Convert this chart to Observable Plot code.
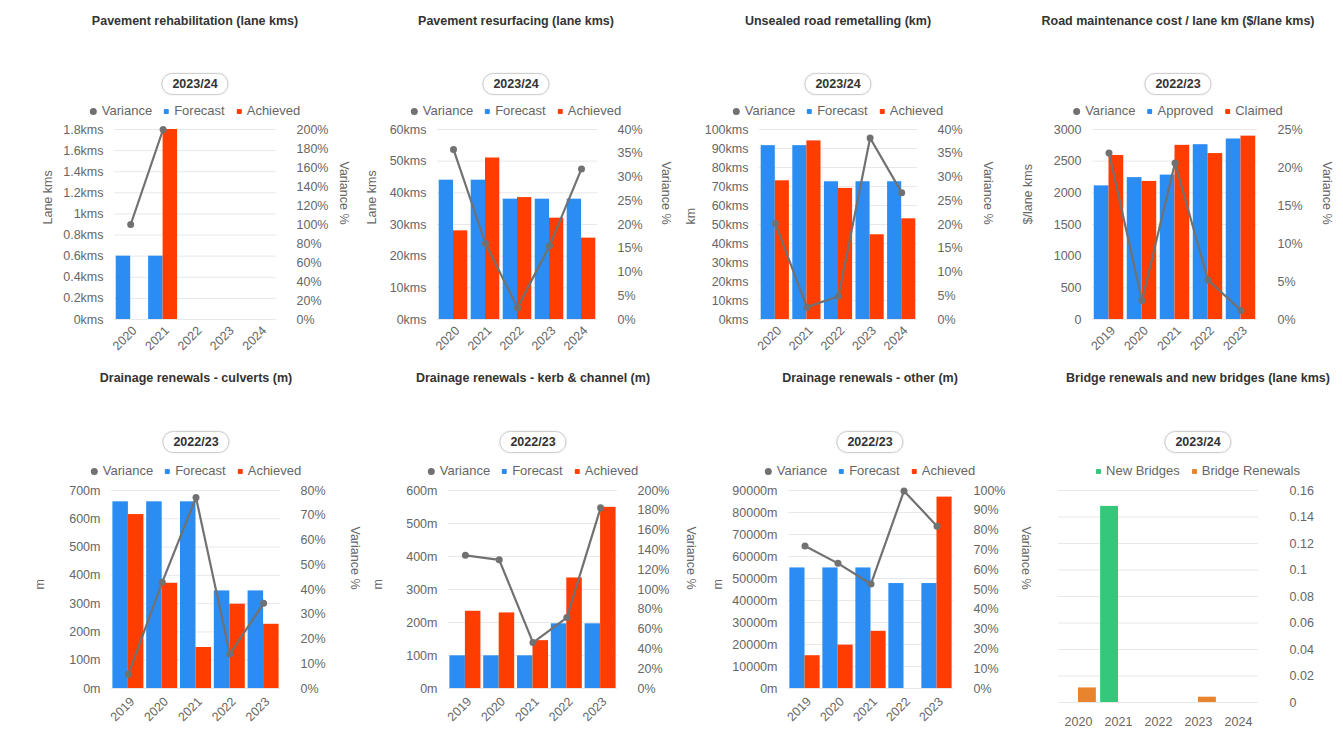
<!DOCTYPE html>
<html>
<head>
<meta charset="utf-8">
<script src="https://cdn.jsdelivr.net/npm/d3@7"></script>
<script src="https://cdn.jsdelivr.net/npm/@observablehq/plot@0.6"></script>
<style>
  html, body { margin: 0; padding: 0; background: #fff; }
  body { position: relative; width: 1343px; height: 736px; overflow: hidden; font-family: "Liberation Sans", Arial, sans-serif; }
  .title { position: absolute; transform: translateX(-50%); white-space: nowrap; font-size: 12.5px; font-weight: bold; color: #333; line-height: 16px; }
  .pill { position: absolute; transform: translateX(-50%); box-sizing: border-box; height: 22px; line-height: 20px; padding: 0 10px; border: 1px solid #cfcfcf; border-radius: 11px; font-size: 12.5px; font-weight: bold; color: #333; background: #fff; box-shadow: 0 0 2px rgba(0,0,0,0.12); white-space: nowrap; }
  .legend { position: absolute; transform: translateX(-50%); display: flex; align-items: center; white-space: nowrap; font-size: 13px; color: #666; line-height: 16px; }
  .legend .item { display: flex; align-items: center; margin-right: 12px; }
  .legend .item:last-child { margin-right: 0; }
  .legend .sw { display: inline-block; margin-right: 5px; }
  .chart { position: absolute; }
  .chart svg { position: absolute; left: 0; top: 0; overflow: visible; max-width: none; }
</style>
</head>
<body>
<script>
// ---- Category axes ----
const years2020to2024 = ["2020", "2021", "2022", "2023", "2024"];
const years2019to2023 = ["2019", "2020", "2021", "2022", "2023"];

// ---- Pavement rehabilitation (lane kms), 2023/24 ----
const rehabForecast = [0.6, 0.6, null, null, null];
const rehabAchieved = [null, 1.8, null, null, null];
const rehabVariance = [100, 200, null, null, null];
const rehabTicks = [0, 0.2, 0.4, 0.6, 0.8, 1, 1.2, 1.4, 1.6, 1.8];
const rehabVarianceTicks = [0, 20, 40, 60, 80, 100, 120, 140, 160, 180, 200];

// ---- Pavement resurfacing (lane kms), 2023/24 ----
const resurfForecast = [44, 44, 38, 38, 38];
const resurfAchieved = [28, 51, 38.5, 32, 25.7];
const resurfVariance = [35.8, 16, 2.5, 15.5, 31.7];
const resurfTicks = [0, 10, 20, 30, 40, 50, 60];
const resurfVarianceTicks = [0, 5, 10, 15, 20, 25, 30, 35, 40];

// ---- Unsealed road remetalling (km), 2023/24 ----
const remetalForecast = [91.5, 91.5, 72.5, 72.5, 72.5];
const remetalAchieved = [73, 94, 69, 44.6, 53];
const remetalVariance = [20.2, 2.6, 4.9, 38.2, 26.7];
const remetalTicks = [0, 10, 20, 30, 40, 50, 60, 70, 80, 90, 100];
const remetalVarianceTicks = [0, 5, 10, 15, 20, 25, 30, 35, 40];

// ---- Road maintenance cost / lane km ($/lane kms), 2022/23 ----
const costApproved = [2110, 2240, 2280, 2760, 2850];
const costClaimed = [2590, 2180, 2750, 2620, 2895];
const costVariance = [21.9, 2.5, 20.6, 5.2, 1.2];
const costTicks = [0, 500, 1000, 1500, 2000, 2500, 3000];
const costVarianceTicks = [0, 5, 10, 15, 20, 25];

// ---- Drainage renewals - culverts (m), 2022/23 ----
const culvertForecast = [660, 660, 660, 345, 345];
const culvertAchieved = [615, 372, 145, 298, 227];
const culvertVariance = [5.8, 42.9, 77.2, 13.9, 34.4];
const culvertTicks = [0, 100, 200, 300, 400, 500, 600, 700];
const culvertVarianceTicks = [0, 10, 20, 30, 40, 50, 60, 70, 80];

// ---- Drainage renewals - kerb & channel (m), 2022/23 ----
const kerbForecast = [99, 99, 99, 196, 196];
const kerbAchieved = [234, 229, 145, 335, 549];
const kerbVariance = [134.5, 130, 46.4, 71.6, 182.5];
const kerbTicks = [0, 100, 200, 300, 400, 500, 600];
const kerbVarianceTicks = [0, 20, 40, 60, 80, 100, 120, 140, 160, 180, 200];

// ---- Drainage renewals - other (m), 2022/23 ----
const otherForecast = [54800, 54800, 54800, 47700, 47700];
const otherAchieved = [14900, 19700, 26000, 0, 87000];
const otherVariance = [72, 63.2, 52.8, 99.8, 82];
const otherTicks = [0, 10000, 20000, 30000, 40000, 50000, 60000, 70000, 80000, 90000];
const otherVarianceTicks = [0, 10, 20, 30, 40, 50, 60, 70, 80, 90, 100];

// ---- Bridge renewals and new bridges (lane kms), 2023/24 ----
const newBridges = [null, 0.148, null, null, null];
const bridgeRenewals = [0.011, null, null, 0.004, null];
const bridgeTicks = [0, 0.02, 0.04, 0.06, 0.08, 0.1, 0.12, 0.14, 0.16];

// ---- Styling ----
const FONT = '"Liberation Sans", Arial, sans-serif';
const BLUE = "#2b8cf2", RED = "#ff3d00", GREY = "#717171", GREEN = "#35c87a", ORANGE = "#e8832e";
const GRID = "#e8e8e8", TICK_TEXT = "#666";

const fmtKms = d => `${d}kms`;
const fmtM = d => `${d}m`;
const fmtPct = d => `${d}%`;
const fmtPlain = d => `${d}`;

// Row geometry (page pixels)
const TOP = {plotTop: 129, plotBottom: 319, titleTop: 13, pillTop: 73, legendTop: 103, pad: 0.12, xRotate: -45, xPad: 9, xDx: 4};
const BOTTOM = {plotTop: 490, plotBottom: 688, titleTop: 370, pillTop: 431, legendTop: 463, pad: 0.09, xRotate: -45, xPad: 11, xDx: 4};

const panels = [
  {title: "Pavement rehabilitation (lane kms)", period: "2023/24", years: years2020to2024,
   series: ["Forecast", "Achieved"], colors: [BLUE, RED], values: [rehabForecast, rehabAchieved],
   variance: rehabVariance, yTicks: rehabTicks, yFormat: fmtKms, yLabel: "Lane kms",
   rTicks: rehabVarianceTicks, rFormat: fmtPct,
   layout: {...TOP, cx: 195, plotLeft: 114, plotRight: 276, leftDx: -67, rightDx: 67}},
  {title: "Pavement resurfacing (lane kms)", period: "2023/24", years: years2020to2024,
   series: ["Forecast", "Achieved"], colors: [BLUE, RED], values: [resurfForecast, resurfAchieved],
   variance: resurfVariance, yTicks: resurfTicks, yFormat: fmtKms, yLabel: "Lane kms",
   rTicks: resurfVarianceTicks, rFormat: fmtPct,
   layout: {...TOP, cx: 516, plotLeft: 437, plotRight: 597, leftDx: -66, rightDx: 68}},
  {title: "Unsealed road remetalling (km)", period: "2023/24", years: years2020to2024,
   series: ["Forecast", "Achieved"], colors: [BLUE, RED], values: [remetalForecast, remetalAchieved],
   variance: remetalVariance, yTicks: remetalTicks, yFormat: fmtKms, yLabel: "km",
   rTicks: remetalVarianceTicks, rFormat: fmtPct,
   layout: {...TOP, cx: 838, plotLeft: 759, plotRight: 917, leftDx: -69, rightDx: 70}},
  {title: "Road maintenance cost / lane km ($/lane kms)", period: "2022/23", years: years2019to2023,
   series: ["Approved", "Claimed"], colors: [BLUE, RED], values: [costApproved, costClaimed],
   variance: costVariance, yTicks: costTicks, yFormat: fmtPlain, yLabel: "$/lane kms",
   rTicks: costVarianceTicks, rFormat: fmtPct,
   layout: {...TOP, cx: 1178, plotLeft: 1092, plotRight: 1257, leftDx: -65, rightDx: 69}},
  {title: "Drainage renewals - culverts (m)", period: "2022/23", years: years2019to2023,
   series: ["Forecast", "Achieved"], colors: [BLUE, RED], values: [culvertForecast, culvertAchieved],
   variance: culvertVariance, yTicks: culvertTicks, yFormat: fmtM, yLabel: "m",
   rTicks: culvertVarianceTicks, rFormat: fmtPct,
   layout: {...BOTTOM, cx: 196, plotLeft: 111, plotRight: 280, leftDx: -72, rightDx: 74}},
  {title: "Drainage renewals - kerb & channel (m)", period: "2022/23", years: years2019to2023,
   series: ["Forecast", "Achieved"], colors: [BLUE, RED], values: [kerbForecast, kerbAchieved],
   variance: kerbVariance, yTicks: kerbTicks, yFormat: fmtM, yLabel: "m",
   rTicks: kerbVarianceTicks, rFormat: fmtPct,
   layout: {...BOTTOM, cx: 533, plotLeft: 448, plotRight: 617, leftDx: -71, rightDx: 73}},
  {title: "Drainage renewals - other (m)", period: "2022/23", years: years2019to2023,
   series: ["Forecast", "Achieved"], colors: [BLUE, RED], values: [otherForecast, otherAchieved],
   variance: otherVariance, yTicks: otherTicks, yFormat: fmtM, yLabel: "m",
   rTicks: otherVarianceTicks, rFormat: fmtPct,
   layout: {...BOTTOM, cx: 870, plotLeft: 788, plotRight: 953, leftDx: -71, rightDx: 72}},
  {title: "Bridge renewals and new bridges (lane kms)", period: "2023/24", years: years2020to2024,
   series: ["New Bridges", "Bridge Renewals"], colors: [GREEN, ORANGE], values: [newBridges, bridgeRenewals],
   variance: null, yTicks: bridgeTicks, yFormat: null, yLabel: null,
   rTicks: bridgeTicks, rFormat: fmtPlain,
   layout: {...BOTTOM, cx: 1198, plotLeft: 1058, plotRight: 1258, plotBottom: 702, pad: 0.12,
            xRotate: 0, xPad: 15, xDx: 0, rightPad: 31}}
];

const ML = 90, MR = 90, MT = 12, MB = 50;
const plotStyle = {background: "transparent", fontFamily: FONT, fontSize: "12.5px", color: TICK_TEXT, overflow: "visible"};

function addDiv(cls, left, top, parent = document.body) {
  const d = document.createElement("div");
  d.className = cls;
  d.style.left = left + "px";
  d.style.top = top + "px";
  parent.append(d);
  return d;
}

function drawPanel(p) {
  const L = p.layout;

  // Title and period selector pill
  addDiv("title", L.cx, L.titleTop).textContent = p.title;
  addDiv("pill", L.cx, L.pillTop).textContent = p.period;

  // Legend
  const legend = addDiv("legend", L.cx, L.legendTop);
  const items = (p.variance ? [{label: "Variance", color: GREY, dot: true}] : [])
    .concat(p.series.map((s, i) => ({label: s, color: p.colors[i], dot: false})));
  for (const it of items) {
    const item = document.createElement("span");
    item.className = "item";
    const sw = document.createElement("span");
    sw.className = "sw";
    const size = it.dot ? 7 : 5;
    Object.assign(sw.style, {width: size + "px", height: size + "px", background: it.color,
      borderRadius: it.dot ? "50%" : "1px"});
    item.append(sw, document.createTextNode(it.label));
    legend.append(item);
  }

  // Chart layers
  const W = L.plotRight - L.plotLeft + ML + MR;
  const H = L.plotBottom - L.plotTop + MT + MB;
  const box = addDiv("chart", L.plotLeft - ML, L.plotTop - MT);
  box.style.width = W + "px";
  box.style.height = H + "px";
  const dims = {width: W, height: H, marginLeft: ML, marginRight: MR, marginTop: MT, marginBottom: MB, style: plotStyle};
  const yMax = d3.max(p.yTicks);

  // 1) grid, left axis and year labels
  const base = Plot.plot({
    ...dims,
    x: {type: "band", domain: p.years, padding: 0, round: false},
    y: {domain: [0, yMax], axis: p.yFormat ? undefined : null},
    marks: [
      Plot.gridY({ticks: p.yTicks, stroke: GRID, strokeOpacity: 1}),
      p.yFormat ? Plot.axisY({ticks: p.yTicks, anchor: "left", tickSize: 0, tickPadding: 11, tickFormat: p.yFormat, label: null}) : null,
      Plot.axisX({anchor: "bottom", tickSize: 0, tickPadding: L.xPad, tickRotate: L.xRotate, dx: L.xDx, label: null}),
      p.yLabel ? Plot.text([p.yLabel], {text: d => d, frameAnchor: "left", dx: L.leftDx, rotate: -90, fill: TICK_TEXT, fontSize: 12.5}) : null
    ]
  });

  // 2) grouped bars, one facet per year
  const rows = p.years.flatMap((year, i) =>
    p.series.map((s, j) => ({year, series: s, value: p.values[j][i]}))
  ).filter(d => d.value != null);
  const bars = Plot.plot({
    ...dims,
    fx: {domain: p.years, padding: 0, round: false, axis: null, label: null},
    x: {domain: p.series, paddingInner: 0, paddingOuter: L.pad, round: false, axis: null},
    y: {domain: [0, yMax], axis: null},
    color: {domain: p.series, range: p.colors},
    marks: [
      Plot.barY(rows, {fx: "year", x: "series", y: "value", fill: "series", inset: 0})
    ]
  });

  // 3) variance line on its own right-hand scale
  const vrows = p.variance
    ? p.years.map((year, i) => ({year, v: p.variance[i]})).filter(d => d.v != null)
    : [];
  const over = Plot.plot({
    ...dims,
    x: {type: "band", domain: p.years, padding: 0, round: false, axis: null},
    y: {domain: [0, d3.max(p.rTicks)]},
    marks: [
      Plot.axisY({ticks: p.rTicks, anchor: "right", tickSize: 0, tickPadding: L.rightPad ?? 20, tickFormat: p.rFormat, label: null}),
      vrows.length ? Plot.line(vrows, {x: "year", y: "v", stroke: GREY, strokeWidth: 2.2}) : null,
      vrows.length ? Plot.dot(vrows, {x: "year", y: "v", fill: GREY, r: 3.5}) : null,
      p.variance ? Plot.text(["Variance %"], {text: d => d, frameAnchor: "right", dx: L.rightDx, rotate: 90, fill: TICK_TEXT, fontSize: 12.5}) : null
    ]
  });

  box.append(base, bars, over);
}

panels.forEach(drawPanel);
</script>
</body>
</html>
